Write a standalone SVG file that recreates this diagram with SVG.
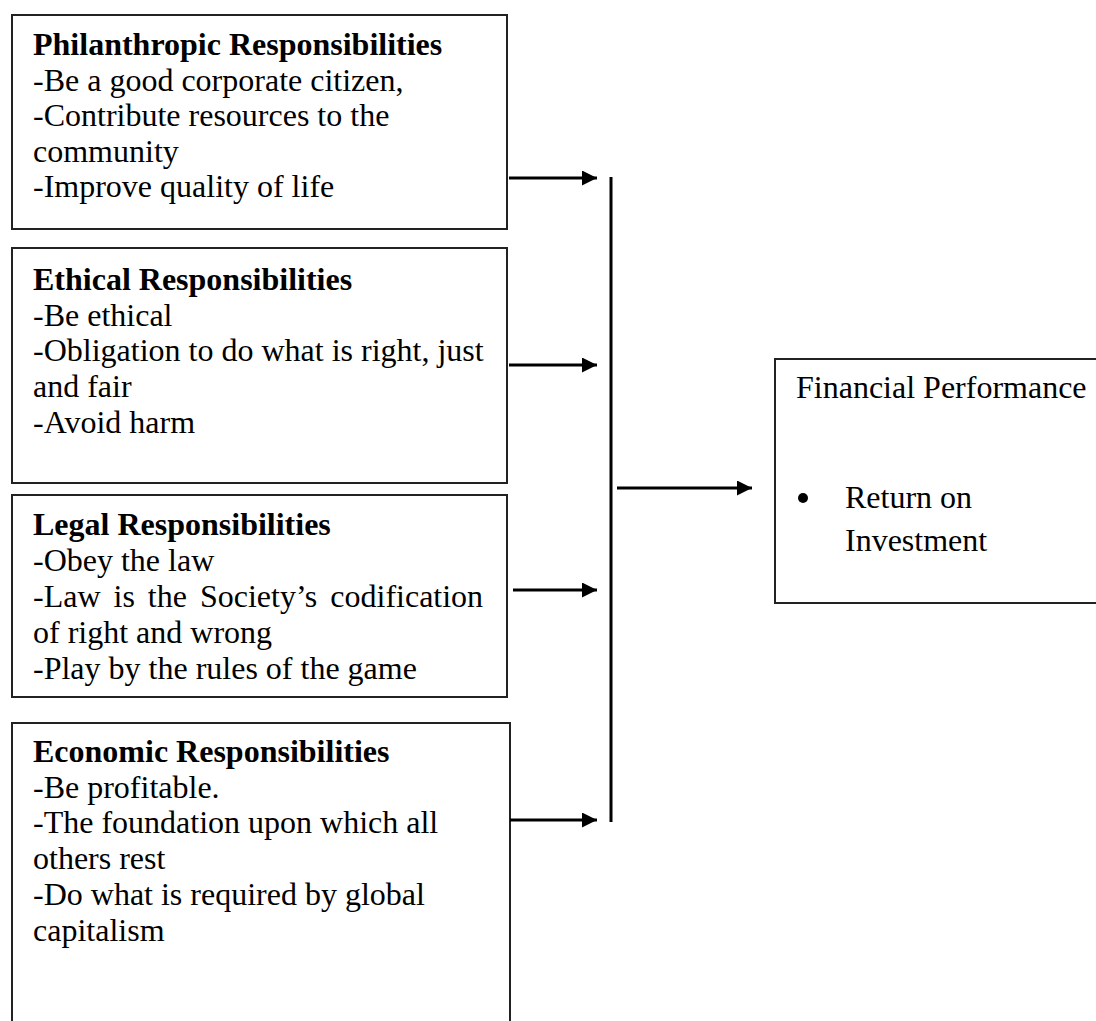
<svg xmlns="http://www.w3.org/2000/svg" width="1096" height="1021" viewBox="0 0 1096 1021">
<style>
.box{fill:#fff;stroke:#222;stroke-width:2}
.t{font-family:"Liberation Serif","Times New Roman",serif;font-size:32px;fill:#000}
.b{font-weight:bold}
.c{stroke:#000;stroke-width:3;fill:none}
</style>
<defs>
<marker id="ah" markerWidth="6" markerHeight="6" refX="5" refY="2.5" orient="auto" markerUnits="strokeWidth">
<path d="M0,0 L5,2.5 L0,5 Z" fill="#000"/>
</marker>
</defs>
<rect width="1096" height="1021" fill="#fff"/>
<g id="philanthropic">
<rect class="box" x="12" y="15" width="495" height="214"/>
<text class="t b" x="33" y="55">Philanthropic Responsibilities</text>
<text class="t" x="33" y="91">-Be a good corporate citizen,</text>
<text class="t" x="33" y="126">-Contribute resources to the</text>
<text class="t" x="33" y="162">community</text>
<text class="t" x="33" y="197">-Improve quality of life</text>
</g>
<g id="ethical">
<rect class="box" x="12" y="248" width="495" height="235"/>
<text class="t b" x="33" y="290">Ethical Responsibilities</text>
<text class="t" x="33" y="326">-Be ethical</text>
<text class="t" x="33" y="361">-Obligation to do what is right, just</text>
<text class="t" x="33" y="397">and fair</text>
<text class="t" x="33" y="433">-Avoid harm</text>
</g>
<g id="legal">
<rect class="box" x="12" y="495" width="495" height="202"/>
<text class="t b" x="33" y="535">Legal Responsibilities</text>
<text class="t" x="33" y="571">-Obey the law</text>
<text class="t" x="33" y="607" word-spacing="5">-Law is the Society’s codification</text>
<text class="t" x="33" y="643">of right and wrong</text>
<text class="t" x="33" y="679">-Play by the rules of the game</text>
</g>
<g id="economic">
<path class="box" d="M12,1022 V723 H510 V1022"/>
<text class="t b" x="33" y="762">Economic Responsibilities</text>
<text class="t" x="33" y="798">-Be profitable.</text>
<text class="t" x="33" y="833">-The foundation upon which all</text>
<text class="t" x="33" y="869">others rest</text>
<text class="t" x="33" y="905">-Do what is required by global</text>
<text class="t" x="33" y="941">capitalism</text>
</g>
<g id="financial">
<path class="box" d="M1097,359 H775 V603 H1097"/>
<text class="t" x="796" y="398">Financial Performance</text>
<circle cx="803" cy="498" r="5" fill="#000"/>
<text class="t" x="845" y="508">Return on</text>
<text class="t" x="845" y="551">Investment</text>
</g>
<g id="connectors">
<line class="c" x1="611" y1="177" x2="611" y2="822"/>
<line class="c" x1="509" y1="178" x2="597" y2="178" marker-end="url(#ah)"/>
<line class="c" x1="509" y1="365" x2="597" y2="365" marker-end="url(#ah)"/>
<line class="c" x1="513" y1="590" x2="597" y2="590" marker-end="url(#ah)"/>
<line class="c" x1="510" y1="820" x2="597" y2="820" marker-end="url(#ah)"/>
<line class="c" x1="617" y1="488" x2="752" y2="488" marker-end="url(#ah)"/>
</g>
</svg>
